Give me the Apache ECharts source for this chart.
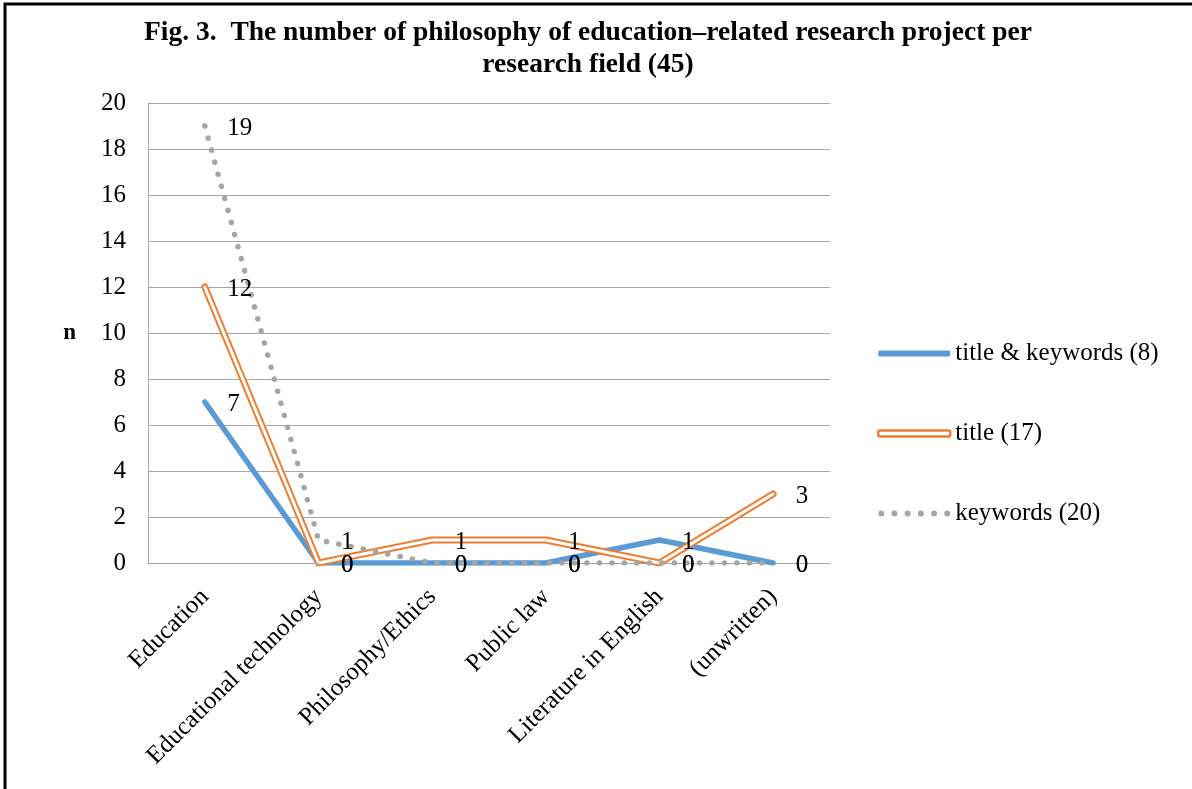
<!DOCTYPE html>
<html>
<head>
<meta charset="utf-8">
<script src="https://cdn.jsdelivr.net/npm/echarts@6/dist/echarts.min.js"></script>
<style>
  html, body { margin: 0; padding: 0; background: #fff; }
  #chart { width: 1192px; height: 789px; }
</style>
</head>
<body>
<div id="chart"></div>
<script>
// data
const fields = ['Education', 'Educational technology', 'Philosophy/Ethics', 'Public law', 'Literature in English', '(unwritten)'];
const titleKeywords = [7, 0, 0, 0, 1, 0];
const titleOnly = [12, 0, 1, 1, 0, 3];
const keywordsOnly = [19, 1, 0, 0, 0, 0];
const seriesNames = ['title & keywords (8)', 'title (17)', 'keywords (20)'];

const serif = '"Liberation Serif", "DejaVu Serif", serif';
const dotsIcon = 'path://M0,3a3,3 0 1,0 6,0a3,3 0 1,0 -6,0M13.2,3a3,3 0 1,0 6,0a3,3 0 1,0 -6,0M26.4,3a3,3 0 1,0 6,0a3,3 0 1,0 -6,0M39.6,3a3,3 0 1,0 6,0a3,3 0 1,0 -6,0M52.8,3a3,3 0 1,0 6,0a3,3 0 1,0 -6,0M66,3a3,3 0 1,0 6,0a3,3 0 1,0 -6,0';

// labels sit to the right of each point
const dataLabel = {
  show: true,
  position: 'right',
  distance: 22,
  offset: [0, 2],
  color: '#000',
  fontFamily: serif,
  fontSize: 25
};

let chart = echarts.init(document.getElementById('chart'));
chart.setOption({
  backgroundColor: '#fff',
  animation: false,
  title: {
    text: 'Fig. 3.  The number of philosophy of education\u2013related research project per\nresearch field (45)',
    left: 583,
    top: 12,
    textAlign: 'center',
    textStyle: {
      fontFamily: serif,
      fontWeight: 'bold',
      fontSize: 27.5,
      lineHeight: 32,
      color: '#000'
    }
  },
  graphic: [{
    type: 'rect',
    shape: { x: 5, y: 4, width: 1400, height: 1000 },
    style: { fill: 'none', stroke: '#000', lineWidth: 3 },
    silent: true
  }],
  legend: {
    orient: 'vertical',
    left: 877,
    top: 341,
    padding: 0,
    itemWidth: 72,
    itemHeight: 6,
    itemGap: 55,
    textStyle: { fontFamily: serif, fontSize: 25, color: '#000' },
    data: [
      { name: seriesNames[0], icon: 'roundRect', itemStyle: { color: '#5b9bd5' } },
      { name: seriesNames[1], icon: 'roundRect', itemStyle: { color: '#fff', borderColor: '#ed7d31', borderWidth: 2.5 } },
      { name: seriesNames[2], icon: dotsIcon, itemStyle: { color: '#a5a5a5' } }
    ]
  },
  grid: { left: 148, top: 103, right: 362, bottom: 226 },
  xAxis: {
    type: 'category',
    data: fields,
    boundaryGap: true,
    axisLine: { lineStyle: { color: '#a6a6a6', width: 1 } },
    axisTick: { show: false },
    axisLabel: {
      rotate: 45,
      interval: 0,
      margin: 30,
      color: '#000',
      fontFamily: serif,
      fontSize: 25
    }
  },
  yAxis: {
    type: 'value',
    min: 0,
    max: 20,
    interval: 2,
    name: 'n',
    nameLocation: 'middle',
    nameRotate: 0,
    nameGap: 72,
    nameTextStyle: { fontFamily: serif, fontWeight: 'bold', fontSize: 23, color: '#000' },
    axisLine: { show: true, lineStyle: { color: '#a6a6a6' } },
    axisTick: { show: false },
    splitLine: { lineStyle: { color: '#a6a6a6' } },
    axisLabel: { margin: 22, color: '#000', fontFamily: serif, fontSize: 25 }
  },
  series: [
    {
      name: seriesNames[0],
      type: 'line',
      data: titleKeywords,
      symbol: 'circle',
      symbolSize: 1,
      z: 2,
      lineStyle: { color: '#5b9bd5', width: 5.5, cap: 'round', join: 'round' },
      itemStyle: { color: '#5b9bd5' },
      label: dataLabel
    },
    {
      name: seriesNames[1],
      type: 'line',
      data: titleOnly,
      symbol: 'circle',
      symbolSize: 1,
      z: 2,
      lineStyle: { color: '#ed7d31', width: 7, cap: 'round', join: 'round' },
      itemStyle: { color: '#ed7d31' },
      label: dataLabel
    },
    {
      // white core of the double orange line
      name: 'title-inner',
      type: 'line',
      data: titleOnly,
      showSymbol: false,
      silent: true,
      z: 2,
      lineStyle: { color: '#fff', width: 3, cap: 'round', join: 'round' },
      itemStyle: { color: '#fff' }
    },
    {
      name: seriesNames[2],
      type: 'line',
      data: keywordsOnly,
      symbol: 'circle',
      symbolSize: 1,
      z: 2,
      lineStyle: { color: '#a5a5a5', width: 5.5, type: [0.1, 12.4], cap: 'round' },
      itemStyle: { color: '#a5a5a5' },
      label: dataLabel
    }
  ]
});
</script>
</body>
</html>
